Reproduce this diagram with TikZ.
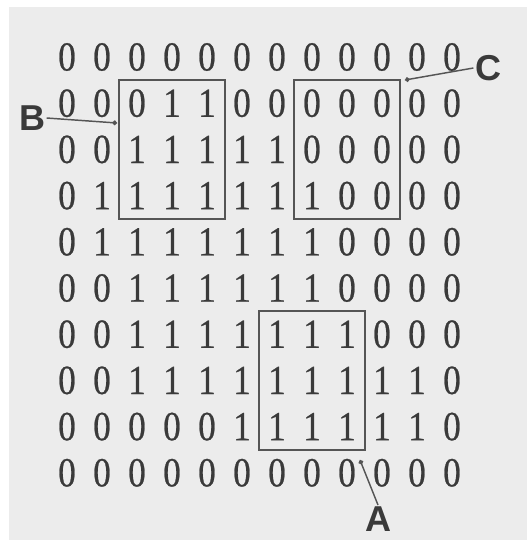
\documentclass[tikz,border=0pt]{standalone}
\usepackage{fontspec}
\setmainfont{Liberation Serif}
\newfontfamily\digitfont[FakeStretch=0.85,FakeBold=0.6]{Liberation Serif}
\newfontfamily\labelfont{Liberation Sans}
\usetikzlibrary{arrows.meta}

\definecolor{bggray}{HTML}{ECECEC}
\definecolor{digitink}{HTML}{3A3A3A}
\definecolor{boxink}{HTML}{555555}

\tikzset{
  cell/.style={minimum width=26.25pt, minimum height=34.65pt, inner sep=0pt,
    text=digitink, font=\digitfont\fontsize{31}{31}\selectfont},
  region/.style={draw=boxink, line width=1.5pt},
  tag/.style={text=digitink, font=\labelfont\bfseries\fontsize{27}{27}\selectfont, inner sep=1pt},
  pointer/.style={draw=boxink, line width=1.1pt, -{Circle[length=3.5pt]}}
}

\begin{document}
\begin{tikzpicture}[x=0.75pt,y=-0.75pt]
  \useasboundingbox (0,0) rectangle (527,540);
  % Background
  \fill[bggray] (9,7) rectangle (527,540);

  % Binary grid
  \foreach \row [count=\r] in {
      {0,0,0,0,0,0,0,0,0,0,0,0},
      {0,0,0,1,1,0,0,0,0,0,0,0},
      {0,0,1,1,1,1,1,0,0,0,0,0},
      {0,1,1,1,1,1,1,1,0,0,0,0},
      {0,1,1,1,1,1,1,1,0,0,0,0},
      {0,0,1,1,1,1,1,1,0,0,0,0},
      {0,0,1,1,1,1,1,1,1,0,0,0},
      {0,0,1,1,1,1,1,1,1,1,1,0},
      {0,0,0,0,0,1,1,1,1,1,1,0},
      {0,0,0,0,0,0,0,0,0,0,0,0}} {
    \foreach \val [count=\c] in \row {
      \node[cell] (cell-\r-\c) at ({67+35*(\c-1)}, {57+46.2*(\r-1)}) {\val};
    }
  }

  % Windows
  \draw[region] (cell-2-3.north west) rectangle (cell-4-5.south east);
  \draw[region] (cell-2-8.north west) rectangle (cell-4-10.south east);
  \draw[region] (cell-7-7.north west) rectangle (cell-9-9.south east);

  % Labels
  \node[tag] (labB) at (32,118) {B};
  \node[tag] (labC) at (488,68) {C};
  \node[tag] (labA) at (378,519) {A};

  % Pointers
  \coordinate (tipB) at (117,123);
  \coordinate (tipC) at (405,80);
  \coordinate (tipA) at (360,460);
  \draw[pointer] (labB.east) -- (tipB);
  \draw[pointer] (labC.west) -- (tipC);
  \draw[pointer] (labA.north) -- (tipA);
\end{tikzpicture}
\end{document}
